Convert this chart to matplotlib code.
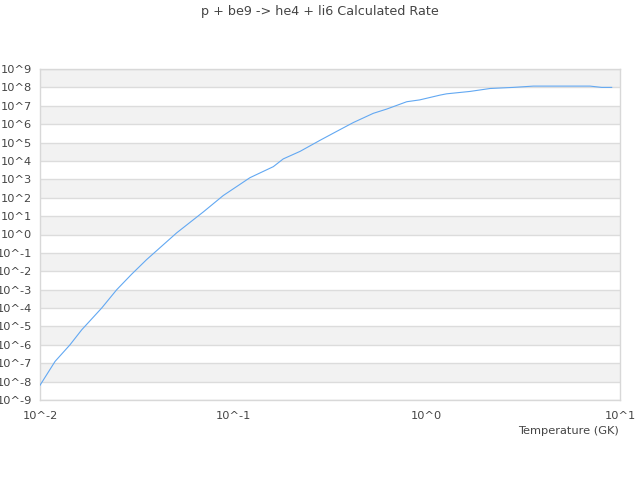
import numpy as np
import matplotlib
matplotlib.use("Agg")
import matplotlib.pyplot as plt

# log10(Temperature / GK)
log_temp = [-2.0, -1.922, -1.845, -1.784, -1.681, -1.603, -1.526, -1.448,
            -1.293, -1.155, -1.052, -0.914, -0.793, -0.742, -0.655, -0.552, -0.465,
            -0.379, -0.276, -0.207, -0.103, -0.036, 0.069, 0.103, 0.224, 0.328,
            0.448, 0.552, 0.845, 0.905, 0.957]
# log10(rate)
log_rate = [-8.2, -6.9, -6.0, -5.18, -4.0, -3.0, -2.16, -1.36,
            0.09, 1.23, 2.12, 3.09, 3.69, 4.11, 4.52, 5.12, 5.61,
            6.09, 6.59, 6.82, 7.22, 7.32, 7.58, 7.65, 7.78, 7.94,
            8.0, 8.07, 8.07, 8.0, 8.0]

x_ticks = [-2, -1, 0, 1]
y_ticks = list(range(-9, 10))

title = "p + be9 -> he4 + li6 Calculated Rate"
xlabel = "Temperature (GK)"

fig = plt.figure(figsize=(6.4, 4.8), dpi=100)
ax = fig.add_axes([40/640, 80/480, 580/640, 331/480])

T = 10.0 ** np.array(log_temp)
R = 10.0 ** np.array(log_rate)

ax.set_xscale("log")
ax.set_yscale("log")
ax.set_xlim(10.0 ** x_ticks[0], 10.0 ** x_ticks[-1])
ax.set_ylim(10.0 ** y_ticks[0], 10.0 ** y_ticks[-1])

# alternating bands
for lo in y_ticks[:-1]:
    if (y_ticks[-1] - 1 - lo) % 2 == 0:
        ax.axhspan(10.0 ** lo, 10.0 ** (lo + 1), color="#f2f2f2", zorder=0, lw=0)

ax.set_yticks([10.0 ** v for v in y_ticks])
ax.set_yticklabels([f"10^{v}" for v in y_ticks])
ax.set_xticks([10.0 ** v for v in x_ticks])
ax.set_xticklabels([f"10^{v}" for v in x_ticks])
ax.minorticks_off()
ax.grid(True, axis="y", color="#dcdcdc", lw=1.0, zorder=1)
ax.tick_params(length=0, labelsize=8.2, labelcolor="#444444", pad=6)
ax.tick_params(axis="x", pad=8)

for s in ax.spines.values():
    s.set_color("#d8d8d8")
    s.set_linewidth(1.0)

ax.plot(T, R, color="#62a8f2", lw=0.8, zorder=3)

fig.text(0.5, 1 - 12/480, title, ha="center", va="center", fontsize=9.2, color="#444444")
fig.text(619/640, 1 - 431/480, xlabel, ha="right", va="center", fontsize=8.2, color="#444444")

fig.savefig("out.png", dpi=100)
